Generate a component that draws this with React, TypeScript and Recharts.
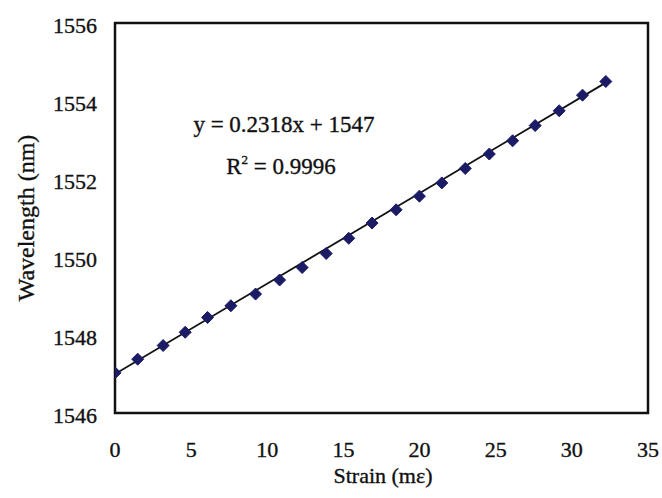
import React from "react";
import {
  ComposedChart,
  Scatter,
  Line,
  XAxis,
  YAxis,
  ReferenceArea,
} from "recharts";

// Measured data (strain in mε, wavelength in nm)
const strain = [0, 1.49, 3.16, 4.61, 6.08, 7.61, 9.23, 10.81, 12.29, 13.87, 15.35, 16.88, 18.46, 19.99, 21.46, 23.0, 24.58, 26.11, 27.59, 29.17, 30.7, 32.23];
const wavelength = [1547.03, 1547.38, 1547.73, 1548.07, 1548.45, 1548.75, 1549.05, 1549.41, 1549.73, 1550.09, 1550.48, 1550.87, 1551.21, 1551.56, 1551.9, 1552.27, 1552.64, 1552.98, 1553.37, 1553.75, 1554.15, 1554.5];

// Linear fit shown on the chart
const slope = 0.2318;
const intercept = 1547;
const fitRange = [0, 32.23];

const xTicks = [0, 5, 10, 15, 20, 25, 30, 35];
const yTicks = [1546, 1548, 1550, 1552, 1554, 1556];

const points = strain.map((x, i) => ({ x, y: wavelength[i] }));
const fitLine = fitRange.map((x) => ({ x, fit: slope * x + intercept }));

const FONT = "'Liberation Serif', 'Times New Roman', serif";
const MARKER = "#1b1b66";
const INK = "#111";
const textStroke = { stroke: INK, strokeWidth: 0.35 };

const Diamond = (props: any) => {
  const { cx, cy } = props;
  const r = 6;
  return (
    <polygon
      points={`${cx},${cy - r} ${cx + r},${cy} ${cx},${cy + r} ${cx - r},${cy}`}
      fill={MARKER}
      stroke={MARKER}
      strokeWidth={1}
    />
  );
};

const YTick = (props: any) => {
  const { x, y, payload } = props;
  return (
    <text x={x} y={y + 2} dy="0.355em" textAnchor="end" fontFamily={FONT} fontSize={22} fill={INK} {...textStroke}>
      {payload.value}
    </text>
  );
};

const XTick = (props: any) => {
  const { x, y, payload } = props;
  return (
    <text x={x} y={y} dy="0.71em" textAnchor="middle" fontFamily={FONT} fontSize={22} fill={INK} {...textStroke}>
      {payload.value}
    </text>
  );
};

export default function App() {
  return (
    <div style={{ position: "absolute", left: 0, top: 0, width: 662, height: 498, background: "#fff" }}>
      <ComposedChart
        width={662}
        height={498}
        data={points}
        margin={{ top: 23, right: 14, bottom: 0, left: 0 }}
      >
        <XAxis
          type="number"
          dataKey="x"
          domain={[0, 35]}
          ticks={xTicks}
          interval={0}
          height={85}
          axisLine={false}
          tickLine={false}
          tickSize={0}
          tickMargin={28}
          tick={<XTick />}
          allowDataOverflow
        />
        <YAxis
          type="number"
          domain={[1546, 1556]}
          ticks={yTicks}
          interval={0}
          width={115}
          axisLine={false}
          tickLine={false}
          tickSize={0}
          tickMargin={18}
          tick={<YTick />}
          allowDataOverflow
        />
        <ReferenceArea
          x1={0}
          x2={35}
          y1={1546}
          y2={1556}
          fill="none"
          fillOpacity={0}
          stroke={INK}
          strokeWidth={2.5}
          ifOverflow="visible"
        />
        <Scatter dataKey="y" data={points} shape={<Diamond />} isAnimationActive={false} />
        <Line
          data={fitLine}
          dataKey="fit"
          stroke={INK}
          strokeWidth={1.8}
          dot={false}
          activeDot={false}
          isAnimationActive={false}
          type="linear"
        />
      </ComposedChart>
      <svg
        width={662}
        height={498}
        style={{ position: "absolute", left: 0, top: 0, pointerEvents: "none" }}
      >
        <text x={284} y={132} textAnchor="middle" fontFamily={FONT} fontSize={23} fill={INK} {...textStroke}>
          y = 0.2318x + 1547
        </text>
        <text x={281} y={174} textAnchor="middle" fontFamily={FONT} fontSize={23} fill={INK} {...textStroke}>
          R<tspan dy={-10} fontSize={13}>2</tspan>
          <tspan dy={10}> = 0.9996</tspan>
        </text>
        <text
          x={34}
          y={218}
          transform="rotate(-90, 34, 218)"
          textAnchor="middle"
          fontFamily={FONT}
          fontSize={24}
          fill={INK}
          {...textStroke}
        >
          Wavelength (nm)
        </text>
        <text x={383} y={483} textAnchor="middle" fontFamily={FONT} fontSize={22} fill={INK} {...textStroke}>
          Strain (mε)
        </text>
      </svg>
    </div>
  );
}
